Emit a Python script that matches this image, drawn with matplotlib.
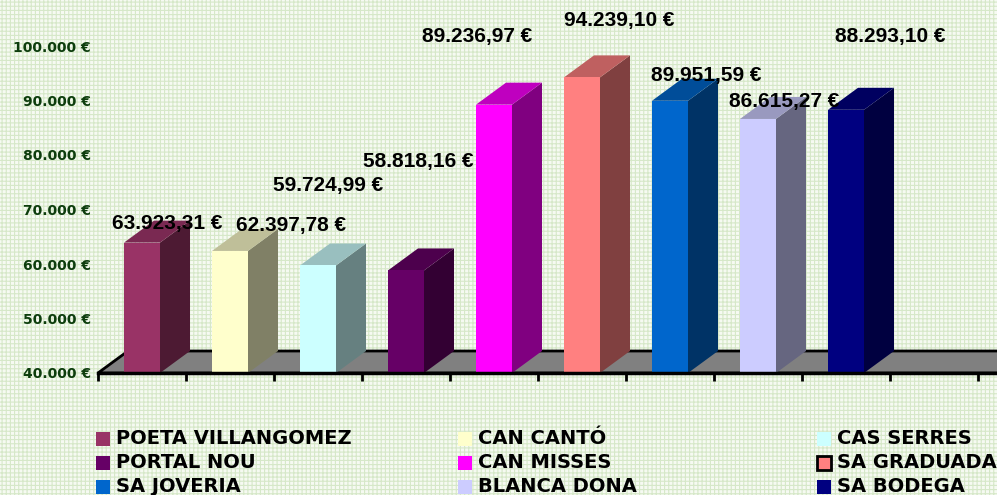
import matplotlib
matplotlib.use("Agg")
import matplotlib.pyplot as plt
from matplotlib.patches import Polygon, Rectangle

# data
centros = ["POETA VILLANGOMEZ", "CAN CANTÓ", "CAS SERRES",
           "PORTAL NOU", "CAN MISSES", "SA GRADUADA",
           "SA JOVERIA", "BLANCA DONA", "SA BODEGA"]
importes = [63923.31, 62397.78, 59724.99, 58818.16, 89236.97,
            94239.10, 89951.59, 86615.27, 88293.10]
y_ticks = [40000, 50000, 60000, 70000, 80000, 90000, 100000]

# front / side / top colours of each bar
front = ["#993366", "#FFFFCC", "#CCFFFF", "#660066", "#FF00FF",
         "#FF8080", "#0066CC", "#CCCCFF", "#000080"]
side = ["#4D1A33", "#808066", "#668080", "#330033", "#800080",
        "#804040", "#003366", "#666680", "#000040"]
top = ["#7A2952", "#BFBF99", "#99BFBF", "#4D004D", "#BF00BF",
       "#BF6060", "#004D99", "#9999BF", "#000060"]

# where the value labels sit, in pixels from the bar top
label_off = [(25, 19), (61, 25), (10, 80), (12, 109), (-17, 68),
             (37, 57), (36, 25), (26, 17), (44, 73)]


def euro(v, dec=2):
    s = f"{v:,.{dec}f}".replace(",", "X").replace(".", ",").replace("X", ".")
    return s + " €"


W, H = 997, 495
plt.rcParams["hatch.linewidth"] = 0.8
fig = plt.figure(figsize=(W / 100, H / 100), dpi=100)
fig.patch.set_facecolor("white")
bg = Rectangle((0, 0), 1, 1, transform=fig.transFigure, facecolor="#F6FAF2",
               edgecolor="#D6E8C8", hatch="++++", linewidth=0, zorder=-10)
fig.add_artist(bg)

ax = fig.add_axes([98 / W, (H - 373) / H, (W - 98) / W, 373 / H])
ax.set_facecolor("none")
ymin = 40000
per_px = 60000 / 327
ax.set_ylim(ymin, ymin + 373 * per_px)
xmax = -0.5 + (W - 98) / 88
ax.set_xlim(-0.5, xmax)

dx = 30 / 88
dy = 22 * per_px
bw = 36 / 88

# floor
floor = Polygon([(-0.5, ymin), (xmax + 1, ymin), (xmax + 1 + dx, ymin + dy),
                 (-0.5 + dx, ymin + dy)], closed=True, facecolor="#808080",
                edgecolor="black", linewidth=2, zorder=1, clip_on=False)
ax.add_patch(floor)

for i, v in enumerate(importes):
    x0 = i - bw / 2
    x1 = i + bw / 2
    ax.add_patch(Polygon([(x1, ymin), (x1 + dx, ymin + dy), (x1 + dx, v + dy), (x1, v)],
                         facecolor=side[i], edgecolor="none", zorder=2, clip_on=False))
    ax.add_patch(Polygon([(x0, v), (x1, v), (x1 + dx, v + dy), (x0 + dx, v + dy)],
                         facecolor=top[i], edgecolor="none", zorder=2, clip_on=False))
    ax.bar(i, v - ymin, bottom=ymin, width=bw, color=front[i], zorder=3, clip_on=False)

for i, v in enumerate(importes):
    ax.annotate(euro(v), xy=(i, v), xytext=label_off[i], textcoords="offset pixels",
                ha="center", va="center", fontsize=15, fontweight="bold",
                family="Liberation Sans", color="black", zorder=10,
                annotation_clip=False)

for s in ["left", "top", "right"]:
    ax.spines[s].set_visible(False)
ax.spines["bottom"].set_linewidth(2.5)
ax.spines["bottom"].set_zorder(4)
ax.set_xticks([k - 0.5 for k in range(11)])
ax.set_xticklabels([])
ax.tick_params(axis="x", direction="out", length=6, width=2, color="black")
ax.set_yticks(y_ticks)
ax.set_yticklabels([euro(t, 0) for t in y_ticks], fontsize=10, fontweight="bold",
                   family="DejaVu Sans", color="#0D3D0D")
ax.tick_params(axis="y", length=0, pad=5)

# legend, three columns filled row by row
col_x = [96, 458, 817]
row_y = [439, 463, 487]
for k, name in enumerate(centros):
    cx = col_x[k % 3]
    cy = row_y[k // 3]
    ec = "black" if name == "SA GRADUADA" else "none"
    fig.add_artist(Rectangle((cx / W, (H - cy - 7) / H), 14 / W, 14 / H,
                             transform=fig.transFigure, facecolor=front[k],
                             edgecolor=ec, linewidth=2))
    fig.text((cx + 20) / W, (H - cy) / H, name, fontsize=14, fontweight="bold",
             family="DejaVu Sans", va="center", ha="left", color="black")

fig.savefig("out.png", dpi=100)
